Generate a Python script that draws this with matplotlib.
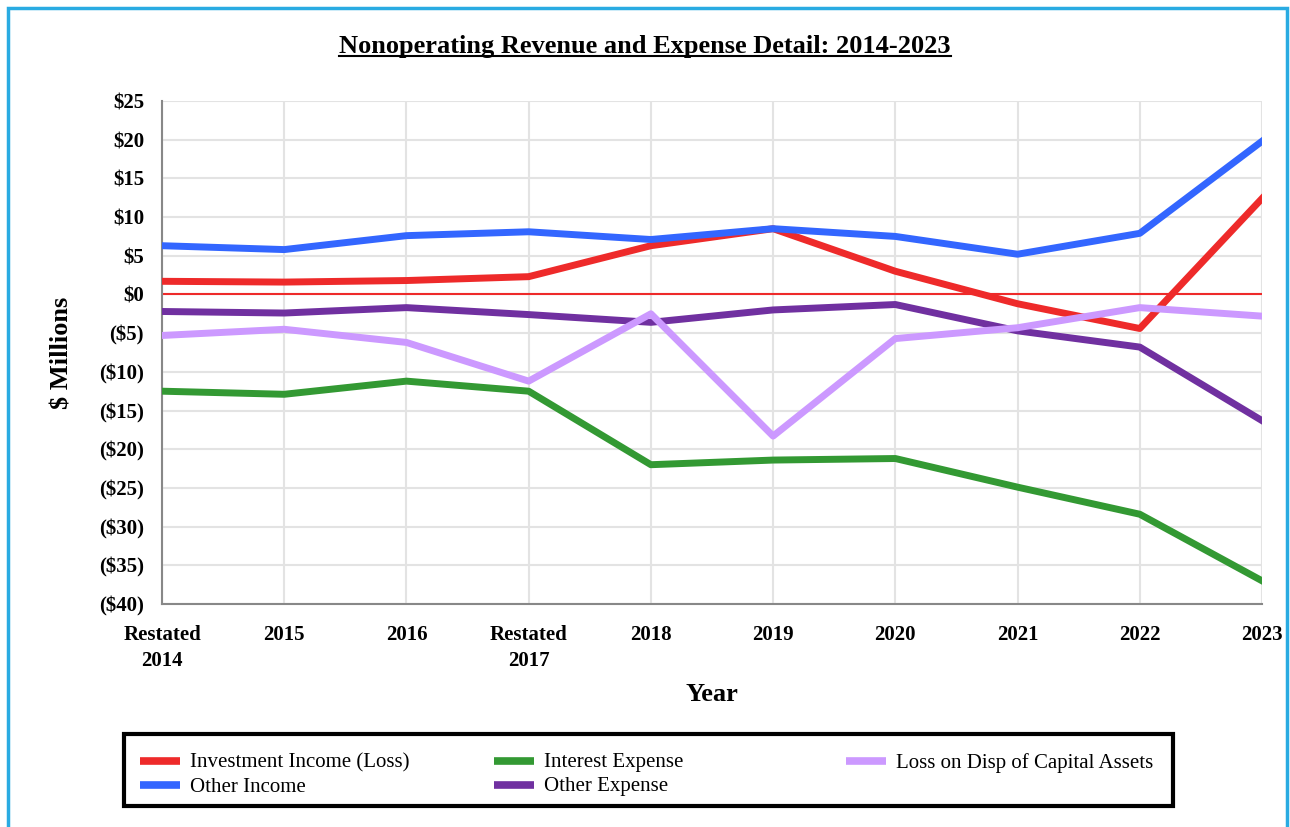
import matplotlib.pyplot as plt
import matplotlib.patches as mpatches
from matplotlib.lines import Line2D
from matplotlib.ticker import FuncFormatter, MultipleLocator

plt.rcParams['font.family'] = ['Liberation Serif', 'DejaVu Serif']

years = ["Restated\n2014", "2015", "2016", "Restated\n2017", "2018",
         "2019", "2020", "2021", "2022", "2023"]

investment_income = [1.7, 1.6, 1.8, 2.3, 6.3, 8.5, 3.0, -1.2, -4.4, 12.4]
other_income = [6.3, 5.8, 7.6, 8.1, 7.1, 8.5, 7.5, 5.2, 7.9, 19.8]
interest_expense = [-12.5, -12.9, -11.2, -12.5, -22.0, -21.4, -21.2, -24.9, -28.4, -37.0]
loss_disp = [-5.3, -4.5, -6.2, -11.2, -2.5, -18.3, -5.7, -4.3, -1.7, -2.8]
other_expense = [-2.2, -2.4, -1.7, -2.6, -3.6, -2.0, -1.3, -4.7, -6.8, -16.3]

W, H = 1290, 827
fig = plt.figure(figsize=(12.9, 8.27), dpi=100)
ax = fig.add_axes([162 / W, 1 - 604 / H, 1100 / W, 503 / H])

x = range(len(years))
lw = 5
ax.axhline(0, color='#ee2a2a', linewidth=1.5, zorder=2)
series = [
    (investment_income, '#ee2a2a', 'Investment Income (Loss)'),
    (other_income, '#3366ff', 'Other Income'),
    (interest_expense, '#339933', 'Interest Expense'),
    (other_expense, '#7030a0', 'Other Expense'),
    (loss_disp, '#cc99ff', 'Loss on Disp of Capital Assets'),
]
for vals, c, name in series:
    ax.plot(x, vals, color=c, lw=lw, label=name, zorder=3)

ax.set_xlim(0, 9)
ax.set_ylim(-40, 25)
ax.yaxis.set_major_locator(MultipleLocator(5))
ax.yaxis.set_major_formatter(FuncFormatter(lambda v, p: f"${v:.0f}" if v >= 0 else f"(${-v:.0f})"))
ax.set_xticks(list(x))
ax.set_xticklabels(years, linespacing=1.4)
ax.grid(True, color='#e3e3e3', linewidth=1.5, zorder=0)
ax.set_axisbelow(True)
for s in ['top', 'right']:
    ax.spines[s].set_visible(False)
for s in ['left', 'bottom']:
    ax.spines[s].set_color('#888888')
    ax.spines[s].set_linewidth(1.5)
ax.tick_params(axis='both', length=0, labelsize=15)
ax.tick_params(axis='x', pad=15)
ax.tick_params(axis='y', pad=13)
for t in ax.get_xticklabels() + ax.get_yticklabels():
    t.set_fontweight('bold')

ax.set_xlabel('Year', fontsize=19, fontweight='bold', labelpad=9)
ax.set_ylabel('$ Millions', fontsize=19, fontweight='bold', labelpad=18)

title = fig.text(0.5, 1 - 46 / H, 'Nonoperating Revenue and Expense Detail: 2014-2023',
                 ha='center', va='center', fontsize=19, fontweight='bold')
fig.canvas.draw()
bb = title.get_window_extent().transformed(fig.transFigure.inverted())
fig.add_artist(Line2D([bb.x0, bb.x1], [bb.y0 + 0.002, bb.y0 + 0.002], color='black',
                      linewidth=1.5, transform=fig.transFigure))

# legend box drawn by hand so the three columns get equal widths
fig.add_artist(mpatches.Rectangle((124 / W, 1 - 806 / H), 1049 / W, 72 / H,
                                  fill=False, edgecolor='black', linewidth=3,
                                  transform=fig.transFigure))
col_x = [140, 494, 846]
row_y = [761, 785]
slots = [(0, 0), (0, 1), (1, 0), (1, 1), (2, 0)]
for (vals, c, name), (ci, ri) in zip(series, slots):
    hx, hy = col_x[ci], row_y[ri]
    fig.add_artist(Line2D([hx / W, (hx + 40) / W], [1 - hy / H, 1 - hy / H], color=c,
                          linewidth=5.5, solid_capstyle='butt', transform=fig.transFigure))
    fig.text((hx + 50) / W, 1 - (hy + 2) / H, name, ha='left', va='center', fontsize=15)

fig.add_artist(mpatches.Rectangle((8 / W, -0.05), 1279 / W, 1.05 - 8 / H,
                                  fill=False, edgecolor='#29abe2', linewidth=2.5,
                                  transform=fig.transFigure, clip_on=False))

fig.savefig('out.png', dpi=100)
